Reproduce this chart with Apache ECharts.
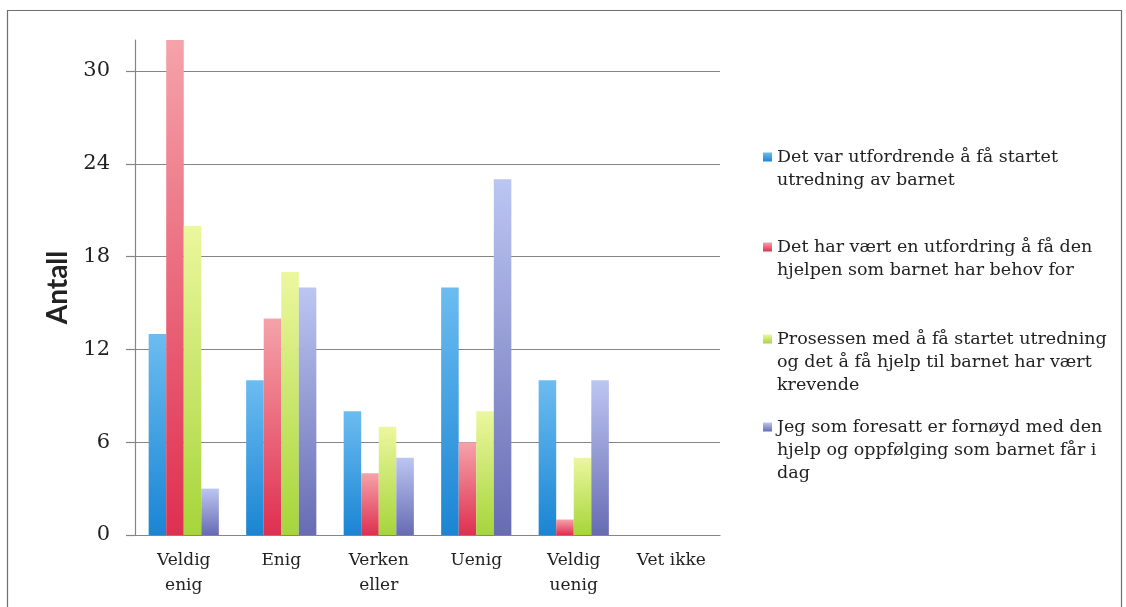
<!DOCTYPE html>
<html>
<head>
<meta charset="utf-8">
<script src="https://cdn.jsdelivr.net/npm/echarts@6/dist/echarts.min.js"></script>
<style>
  html, body { margin: 0; padding: 0; background: #fff; }
  #chart { width: 1126px; height: 607px; }
</style>
</head>
<body>
<div id="chart"></div>
<script>
// categories on the x axis
var categories = ['Veldig\nenig', 'Enig', 'Verken\neller', 'Uenig', 'Veldig\nuenig', 'Vet ikke']
// y axis ticks
var yTicks = [0, 6, 12, 18, 24, 30]
// series names (wrapped as in the legend)
var seriesNames = [
  'Det var utfordrende å få startet\nutredning av barnet',
  'Det har vært en utfordring å få den\nhjelpen som barnet har behov for',
  'Prosessen med å få startet utredning\nog det å få hjelp til barnet har vært\nkrevende',
  'Jeg som foresatt er fornøyd med den\nhjelp og oppfølging som barnet får i\ndag'
]
var utfordrendeStart = [13, 10, 8, 16, 10, 0]
var utfordringHjelp = [32, 14, 4, 6, 1, 0]
var prosessenKrevende = [20, 17, 7, 8, 5, 0]
var fornoydHjelp = [3, 16, 5, 23, 10, 0]

var seriesData = [utfordrendeStart, utfordringHjelp, prosessenKrevende, fornoydHjelp]
var gradients = [
  ['#6cbcf0', '#1a85d4'],
  ['#f5a3a9', '#df2f50'],
  ['#ecf79e', '#a6d53a'],
  ['#bcc6f2', '#676cb3']
]
var legendCenters = [157, 247, 339, 427]
var lineH = 23

var chart = echarts.init(document.getElementById('chart'))

var serif = 'DejaVu Serif'
var axisGrey = '#858585'

// one legend per item so the marker sits on the first text line
var legends = seriesNames.map(function (name, i) {
  var n = name.split('\n').length
  var boxH = (2 * n - 1) * lineH
  return {
    data: [name],
    orient: 'vertical',
    left: 763,
    top: legendCenters[i] - boxH / 2,
    padding: 0,
    icon: 'rect',
    itemWidth: 9,
    itemHeight: 9,
    itemGap: 0,
    selectedMode: false,
    formatter: function (nm) {
      return new Array(n).join('\n') + nm
    },
    textStyle: {
      fontFamily: serif,
      fontSize: 17.5,
      color: '#222',
      lineHeight: lineH
    }
  }
})

var option = {
  animation: false,
  backgroundColor: '#fff',
  graphic: [{
    type: 'rect',
    shape: { x: 7.5, y: 10.5, width: 1114, height: 640 },
    style: { fill: 'none', stroke: '#6f6f6f', lineWidth: 1.2 },
    silent: true
  }],
  legend: legends,
  grid: { left: 135, right: 406, top: 40, bottom: 72 },
  xAxis: {
    type: 'category',
    data: categories,
    axisLine: { lineStyle: { color: axisGrey, width: 1.2 } },
    axisTick: { length: 8, lineStyle: { color: axisGrey, width: 1.2 } },
    axisLabel: {
      fontFamily: serif,
      fontSize: 17,
      color: '#222',
      lineHeight: 25,
      margin: 13
    }
  },
  yAxis: {
    type: 'value',
    min: 0,
    max: 32,
    interval: 6,
    name: 'Antall',
    nameLocation: 'middle',
    nameGap: 62,
    nameTextStyle: {
      fontFamily: 'Lato',
      fontWeight: 'bold',
      fontSize: 28,
      color: '#222'
    },
    axisLine: { show: true, lineStyle: { color: axisGrey, width: 1.2 } },
    axisTick: { show: true, length: 9, customValues: yTicks, lineStyle: { color: axisGrey, width: 1.2 } },
    axisLabel: {
      customValues: yTicks,
      fontFamily: serif,
      fontSize: 21,
      color: '#222',
      margin: 25
    },
    splitLine: {
      lineStyle: { color: axisGrey, width: 1.2 }
    }
  },
  series: seriesData.map(function (d, i) {
    return {
      name: seriesNames[i],
      type: 'bar',
      data: d,
      barGap: 0,
      barCategoryGap: '28%',
      itemStyle: {
        color: new echarts.graphic.LinearGradient(0, 0, 0, 1, [
          { offset: 0, color: gradients[i][0] },
          { offset: 1, color: gradients[i][1] }
        ])
      }
    }
  })
}

chart.setOption(option)
</script>
</body>
</html>
